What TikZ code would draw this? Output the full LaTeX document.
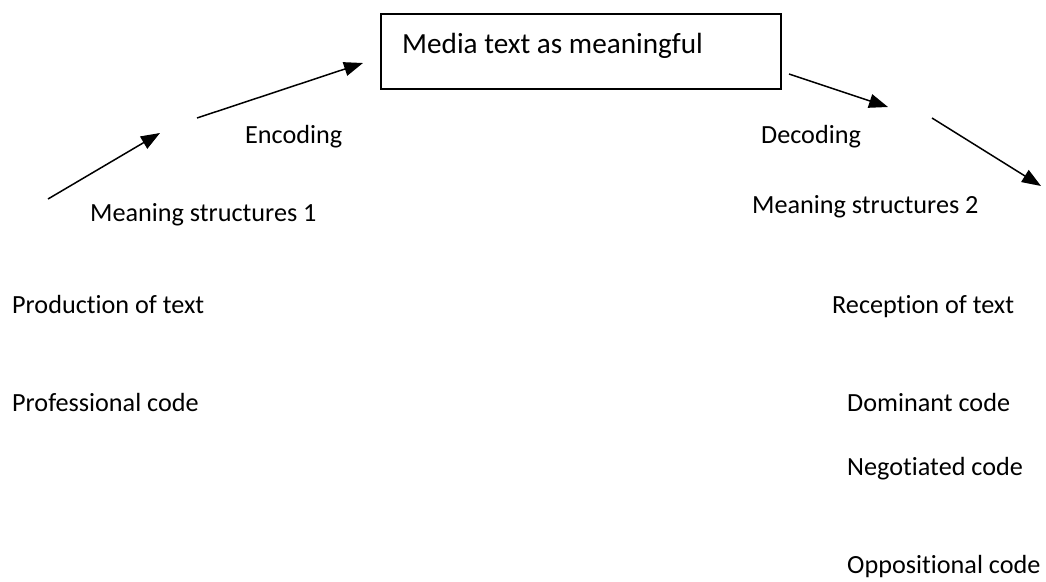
\documentclass[tikz,border=0pt]{standalone}
\usepackage{fontspec}
\setmainfont{Carlito}[Ligatures=NoCommon]
\usetikzlibrary{arrows.meta}
\begin{document}
\begin{tikzpicture}[x=1pt,y=-1pt,
  lbl/.style={anchor=base west,inner sep=0pt,font=\fontsize{26.2}{30}\selectfont},
  boxlbl/.style={anchor=base west,inner sep=0pt,font=\fontsize{29.2}{34}\selectfont},
  mbox/.style={draw,line width=1.8pt,anchor=north west,minimum width=400pt,minimum height=75pt,inner sep=0pt},
  arr/.style={line width=1.5pt,-{Triangle[length=19pt,width=14pt]}}]
\useasboundingbox (0,0) rectangle (1046,581);
% box
\node[mbox] (box) at (380,13) {};
\node[boxlbl] (boxtext) at (402,53) {Media text as meaningful};
% arrow end points
\coordinate (a1s) at (48,199);
\coordinate (a1e) at (160,133);
\coordinate (a2s) at (197,118);
\coordinate (a2e) at (363,63);
\coordinate (a3s) at (789,74);
\coordinate (a3e) at (888,107);
\coordinate (a4s) at (932,118);
\coordinate (a4e) at (1041,186);
\draw[arr] (a1s) -- (a1e);
\draw[arr] (a2s) -- (a2e);
\draw[arr] (a3s) -- (a3e);
\draw[arr] (a4s) -- (a4e);
% labels
\node[lbl] (enc) at (245,143) {Encoding};
\node[lbl] (dec) at (761,143) {Decoding};
\node[lbl] (ms1) at (90,221) {Meaning structures 1};
\node[lbl] (ms2) at (752,213) {Meaning structures 2};
\node[lbl] (prod) at (12,313) {Production of text};
\node[lbl] (rec) at (832,313) {Reception of text};
\node[lbl] (prof) at (12,411) {Professional code};
\node[lbl] (dom) at (847,411) {Dominant code};
\node[lbl] (neg) at (847,475) {Negotiated code};
\node[lbl] (opp) at (847,573) {Oppositional code};
\end{tikzpicture}
\end{document}
